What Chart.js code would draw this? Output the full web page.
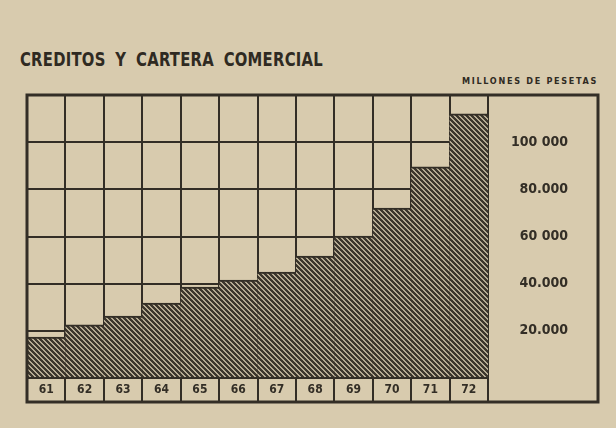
<!DOCTYPE html>
<html>
<head>
<meta charset="utf-8">
<script src="https://cdn.jsdelivr.net/npm/chart.js@4"></script>
<style>
  body { margin: 0; background: #d8cbae; width: 616px; height: 428px; overflow: hidden; position: relative; }
  canvas { position: absolute; left: 0; top: 0; }
  #title { position: absolute; left: 20px; top: 50px; font: bold 19px "DejaVu Sans Condensed", "Liberation Sans Narrow", sans-serif;
           line-height: 19px; color: #2f2a22; white-space: nowrap; letter-spacing: 0.3px; word-spacing: 5px;
           transform: scaleX(0.866); transform-origin: 0 0; }
  #units { position: absolute; left: 462px; top: 76px; font: bold 9px "DejaVu Sans Condensed", "Liberation Sans Narrow", sans-serif;
           line-height: 10px; color: #2f2a22; white-space: nowrap; letter-spacing: 1.7px; }
</style>
</head>
<body>
<div id="title">CREDITOS Y CARTERA COMERCIAL</div>
<div id="units">MILLONES DE PESETAS</div>
<canvas id="chart" width="616" height="428"></canvas>
<script>
// millones de pesetas
const years = ['61', '62', '63', '64', '65', '66', '67', '68', '69', '70', '71', '72'];
const credits = [17400, 22500, 26300, 31800, 38600, 41500, 44900, 51700, 60200, 72100, 89500, 112000];
const tickValues = [20000, 40000, 60000, 80000, 100000];
const tickLabels = ['20.000', '40.000', '60 000', '80.000', '100 000'];

const ink = '#332e26';
const fam = '"DejaVu Sans Condensed", "Liberation Sans Narrow", sans-serif';
const panelExtra = 30;   // blank strip right of the scale labels

// crisp "\\\\" stripes, drawn pixel by pixel so the tile has no seams
function hatch() {
  const p = 5;
  let c = document.createElement('canvas');
  c.width = p; c.height = p;
  let g = c.getContext('2d');
  for (let y = 0; y < p; y++) {
    for (let x = 0; x < p; x++) {
      g.fillStyle = ((x - y + p) % p) < 3 ? '#3d372d' : '#b6ab93';
      g.fillRect(x, y, 1, 1);
    }
  }
  return g.createPattern(c, 'repeat');
}

// thick outer box round plot + scale panel + year row
const frame = {
  id: 'frame',
  afterDraw(chart) {
    let {ctx, chartArea} = chart;
    let x = chart.scales.x, y = chart.scales.y;
    ctx.save();
    ctx.strokeStyle = ink;
    ctx.lineWidth = 3;
    ctx.strokeRect(chartArea.left, chartArea.top, y.right + panelExtra - chartArea.left, x.bottom - chartArea.top);
    ctx.restore();
  }
};

new Chart(document.getElementById('chart'), {
  type: 'bar',
  data: {
    labels: years,
    datasets: [{
      data: credits,
      backgroundColor: hatch(),
      borderColor: ink,
      borderWidth: {top: 2, left: 0, right: 0, bottom: 0},
      borderSkipped: 'bottom',
      categoryPercentage: 1,
      barPercentage: 1
    }]
  },
  options: {
    responsive: false,
    animation: false,
    layout: {padding: {left: 27, right: 18 + panelExtra, top: 95, bottom: 26}},
    plugins: {legend: {display: false}, tooltip: {enabled: false}},
    scales: {
      x: {
        z: 1,
        grid: {color: ink, lineWidth: 2, tickLength: 24, offset: true},
        border: {color: ink, width: 2},
        ticks: {color: ink, padding: -19, font: {family: fam, size: 12, weight: 'bold'}},
        afterFit: s => { s.height = 24; }
      },
      y: {
        position: 'right',
        min: 0, max: 120000,
        z: 1,
        grid: {color: ink, lineWidth: 2, drawTicks: false},
        border: {color: ink, width: 2},
        ticks: {
          stepSize: 20000,
          crossAlign: 'far',
          color: ink,
          font: {family: fam, size: 14, weight: 'bold'},
          callback: v => { let i = tickValues.indexOf(v); return i < 0 ? '' : tickLabels[i]; }
        },
        afterFit: s => { s.width = 80; }
      }
    }
  },
  plugins: [frame]
});
</script>
</body>
</html>
